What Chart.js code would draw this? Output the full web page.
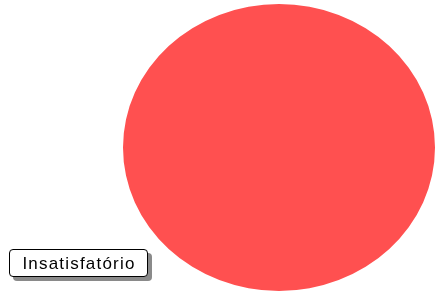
<!DOCTYPE html>
<html><head><meta charset="utf-8">
<script src="https://cdn.jsdelivr.net/npm/chart.js@4"></script>
<style>
html,body{margin:0;padding:0;background:#fff;}
#wrap{position:relative;width:435px;height:291px;}
#legend{position:absolute;left:9px;top:249px;width:136px;height:26px;border:1.5px solid #000;border-radius:4px;background:#fff;box-shadow:4px 4px 0 #8a8a8a;font-family:"Liberation Sans",Arial,sans-serif;font-size:17px;letter-spacing:1.2px;line-height:27px;text-align:center;color:#000;box-sizing:content-box;padding-left:1px;}
</style></head>
<body>
<div id="wrap"><canvas id="c" width="435" height="291"></canvas><div id="legend"></div></div>
<script>
const categories = ["Insatisfatório"];
const values = [100];
const colors = ["#FF5050"];

document.getElementById('legend').textContent = categories[0];

const stretch = {
  id: 'stretch',
  beforeDatasetsDraw(chart) {
    const a = chart.chartArea;
    const cx = (a.left + a.right) / 2, cy = (a.top + a.bottom) / 2;
    const r = Math.min(a.right - a.left, a.bottom - a.top) / 2;
    const sx = ((a.right - a.left) / 2) / r;
    const ctx = chart.ctx;
    ctx.save();
    ctx.translate(cx, cy);
    ctx.scale(sx, 1);
    ctx.translate(-cx, -cy);
  },
  afterDatasetsDraw(chart) { chart.ctx.restore(); }
};

new Chart(document.getElementById('c'), {
  type: 'pie',
  data: { labels: categories, datasets: [{ data: values, backgroundColor: colors, borderWidth: 0 }] },
  options: {
    responsive: false,
    animation: false,
    layout: { padding: { left: 123, right: 0, top: 4, bottom: 0 } },
    plugins: { legend: { display: false }, tooltip: { enabled: false } }
  },
  plugins: [stretch]
});
</script>
</body></html>
